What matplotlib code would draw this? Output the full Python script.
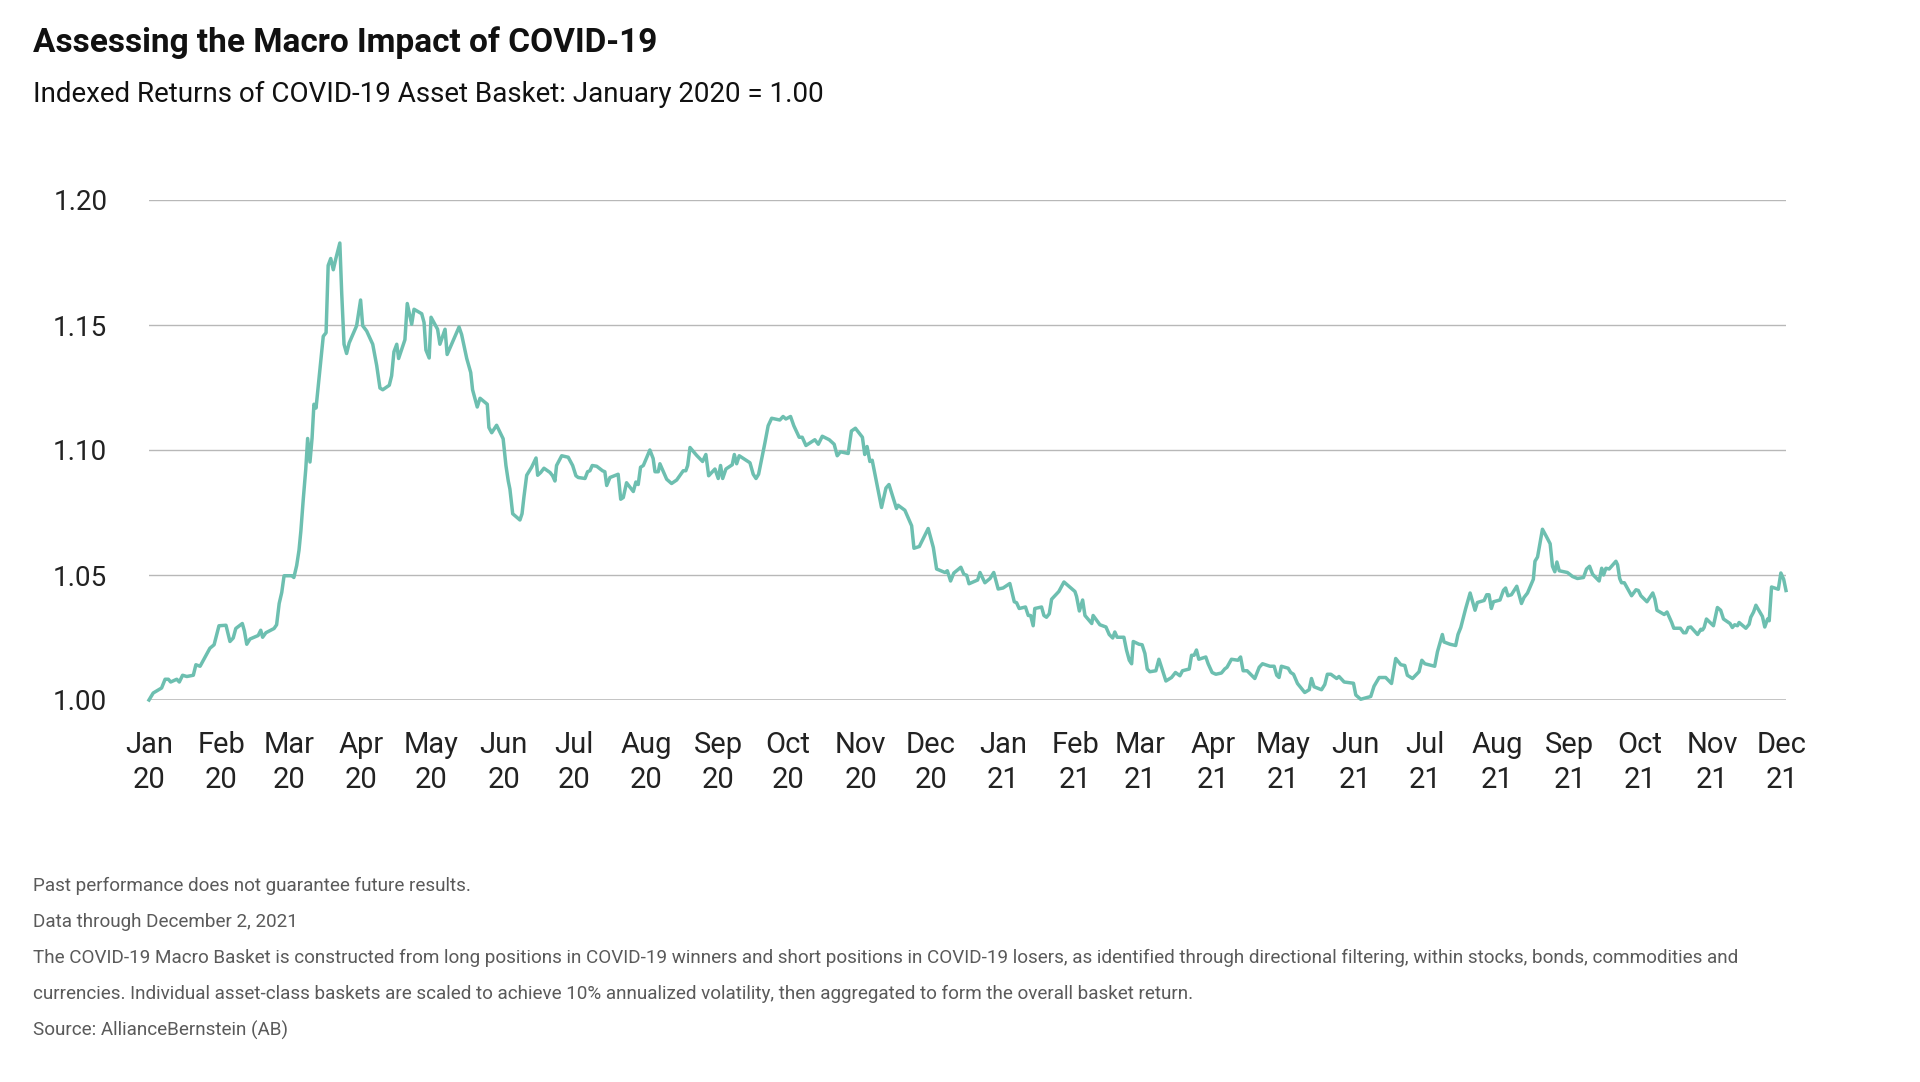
import pandas as pd
import matplotlib
matplotlib.use("Agg")
import matplotlib.pyplot as plt

# Series: days after 2020-01-01 and indexed value
day_offset = [
    0, 1.8, 5.4, 6.9, 8.3, 9.3, 11.9, 13.0, 14.4, 16.2, 19.0, 20.1, 21.9, 26.1, 27.9, 30.0,
    33.0, 34.7, 36.1, 37.2, 40.0, 40.9, 41.9, 43.3, 46.8, 47.9, 48.7, 50.1, 53.6, 54.7, 55.8,
    56.9, 57.9, 61.2, 62.1, 63.3, 64.3, 65.1, 66.1, 67.2, 68.0, 69.0, 69.9, 70.7, 71.6, 72.7,
    74.7, 75.9, 76.8, 77.9, 79.0, 80.1, 81.8, 82.6, 83.6, 84.7, 85.8, 89.0, 90.7, 91.6, 93.3,
    95.9, 97.6, 99.0, 100.2, 103.0, 104.0, 105.0, 106.2, 107.0, 109.7, 110.7, 112.6, 113.6,
    116.9, 117.9, 118.7, 120.1, 120.9, 123.7, 124.7, 126.9, 127.8, 132.9, 134.0, 136.2, 137.9,
    138.7, 140.7, 141.9, 145.0, 145.7, 146.9, 149.0, 151.8, 153.0, 154.0, 154.7, 155.9, 159.0,
    159.9, 160.7, 161.9, 164.0, 165.9, 166.6, 167.9, 169.3, 171.9, 173.0, 174.0, 174.7, 176.9,
    179.7, 181.6, 183.0, 184.0, 186.9, 188.0, 189.0, 190.0, 191.9, 194.4, 195.4, 196.2, 197.6,
    201.1, 202.2, 203.3, 204.7, 207.6, 208.7, 209.7, 210.7, 211.9, 214.7, 216.1, 216.9, 218.3,
    219.0, 221.9, 224.0, 226.2, 229.0, 230.1, 230.9, 231.9, 234.7, 237.3, 238.7, 239.9, 242.6,
    244.0, 245.0, 245.9, 247.3, 250.0, 250.9, 251.9, 253.0, 257.6, 259.0, 260.2, 261.3, 264.0,
    265.4, 266.9, 270.4, 271.8, 273.0, 275.0, 276.4, 278.7, 280.0, 281.6, 285.4, 286.9, 288.6,
    291.6, 293.7, 295.0, 296.4, 299.7, 301.1, 302.8, 305.8, 306.8, 307.8, 309.0, 310.0, 314.0,
    315.9, 317.2, 320.4, 321.1, 324.0, 326.9, 327.9, 330.2, 334.0, 336.2, 337.6, 341.2, 342.2,
    343.6, 345.0, 348.0, 349.3, 350.5, 351.5, 355.2, 356.2, 358.3, 360.5, 362.1, 364.0, 366.1,
    369.0, 370.9, 371.9, 373.0, 375.7, 376.9, 377.9, 379.0, 379.7, 382.6, 383.6, 384.7, 385.9,
    386.9, 390.0, 392.2, 396.9, 397.6, 398.8, 400.2, 401.2, 404.1, 404.7, 407.6, 410.2, 411.6,
    413.1, 414.0, 415.0, 417.9, 419.0, 420.2, 421.2, 421.9, 424.4, 425.7, 426.9, 427.9, 429.0,
    431.6, 432.9, 434.0, 435.9, 438.3, 440.0, 441.9, 443.0, 445.9, 446.9, 448.0, 449.0, 450.0,
    453.0, 454.0, 455.7, 457.3, 459.7, 461.1, 462.1, 464.0, 466.8, 467.9, 469.0, 470.7, 474.0,
    475.9, 477.3, 480.5, 482.3, 483.4, 484.4, 485.4, 488.3, 489.4, 490.6, 492.3, 495.4, 497.3,
    498.3, 499.4, 502.6, 504.0, 505.1, 506.6, 509.1, 510.1, 512.3, 516.3, 517.3, 519.4, 523.7,
    525.1, 527.3, 530.1, 532.6, 534.4, 536.6, 538.3, 539.4, 541.6, 544.4, 545.6, 546.9, 551.1,
    552.3, 554.4, 555.1, 557.7, 560.1, 561.1, 562.3, 564.4, 566.3, 568.4, 569.4, 572.3, 573.4,
    574.4, 575.4, 576.3, 579.1, 580.6, 581.5, 582.5, 584.0, 586.3, 588.3, 589.4, 590.9, 593.4,
    594.1, 595.2, 597.3, 599.1, 600.6, 601.6, 602.6, 603.5, 604.5, 608.0, 610.2, 612.3, 614.9,
    616.2, 617.5, 618.8, 621.6, 622.7, 623.5, 624.5, 625.9, 628.8, 629.5, 630.4, 631.2, 632.4,
    635.5, 637.4, 638.4, 639.5, 642.1, 644.6, 645.5, 646.4, 649.5, 650.7, 652.7, 653.6, 656.4,
    657.8, 658.8, 659.8, 660.9, 663.8, 665.2, 665.9, 666.6, 667.6, 670.6, 672.3, 673.7, 674.9,
    677.7, 678.7, 679.7, 680.9, 681.6, 684.5, 685.9, 686.6, 687.8, 688.8, 691.6, 692.6, 693.8,
    694.5, 695.5, 698.4, 699.5, 700.7, 701.7,
]
basket_index = [
    1.0000, 1.0028, 1.0048, 1.0083, 1.0083, 1.0072, 1.0083, 1.0072, 1.0099, 1.0094, 1.0099, 1.0141,
    1.0135, 1.0207, 1.0221, 1.0297, 1.0299, 1.0234, 1.0248, 1.0286, 1.0306, 1.0276, 1.0223, 1.0244,
    1.0258, 1.0279, 1.0251, 1.0269, 1.0286, 1.0301, 1.0386, 1.0430, 1.0497, 1.0497, 1.0490, 1.0538,
    1.0599, 1.0676, 1.0800, 1.0924, 1.1046, 1.0952, 1.1048, 1.1183, 1.1168, 1.1269, 1.1455, 1.1469,
    1.1738, 1.1766, 1.1721, 1.1766, 1.1828, 1.1628, 1.1423, 1.1386, 1.1428, 1.1497, 1.1600, 1.1497,
    1.1476, 1.1423, 1.1338, 1.1248, 1.1241, 1.1259, 1.1297, 1.1393, 1.1423, 1.1366, 1.1441, 1.1586,
    1.1503, 1.1563, 1.1545, 1.1510, 1.1400, 1.1368, 1.1531, 1.1483, 1.1423, 1.1483, 1.1382, 1.1492,
    1.1462, 1.1366, 1.1310, 1.1241, 1.1172, 1.1207, 1.1183, 1.1090, 1.1069, 1.1099, 1.1045, 1.0938,
    1.0876, 1.0844, 1.0745, 1.0720, 1.0745, 1.0811, 1.0899, 1.0931, 1.0968, 1.0899, 1.0910, 1.0927,
    1.0910, 1.0897, 1.0876, 1.0938, 1.0977, 1.0971, 1.0938, 1.0897, 1.0890, 1.0886, 1.0913, 1.0917,
    1.0938, 1.0935, 1.0917, 1.0913, 1.0858, 1.0890, 1.0903, 1.0803, 1.0810, 1.0869, 1.0834, 1.0872,
    1.0862, 1.0931, 1.0938, 1.1000, 1.0966, 1.0913, 1.0913, 1.0945, 1.0883, 1.0866, 1.0880, 1.0917,
    1.0917, 1.0938, 1.1010, 1.0979, 1.0954, 1.0982, 1.0897, 1.0924, 1.0886, 1.0938, 1.0886, 1.0924,
    1.0941, 1.0982, 1.0945, 1.0977, 1.0949, 1.0903, 1.0886, 1.0903, 1.1028, 1.1097, 1.1127, 1.1120,
    1.1134, 1.1124, 1.1134, 1.1097, 1.1051, 1.1051, 1.1018, 1.1041, 1.1023, 1.1055, 1.1041, 1.1023,
    1.0977, 1.0993, 1.0986, 1.1076, 1.1087, 1.1051, 1.0982, 1.1014, 1.0954, 1.0959, 1.0770, 1.0848,
    1.0862, 1.0766, 1.0779, 1.0759, 1.0697, 1.0607, 1.0614, 1.0686, 1.0610, 1.0524, 1.0510, 1.0517,
    1.0476, 1.0508, 1.0531, 1.0503, 1.0499, 1.0465, 1.0480, 1.0510, 1.0469, 1.0486, 1.0510, 1.0444,
    1.0448, 1.0466, 1.0393, 1.0389, 1.0366, 1.0372, 1.0338, 1.0338, 1.0297, 1.0366, 1.0372, 1.0338,
    1.0331, 1.0345, 1.0403, 1.0434, 1.0472, 1.0434, 1.0414, 1.0356, 1.0400, 1.0338, 1.0306, 1.0338,
    1.0301, 1.0292, 1.0262, 1.0248, 1.0272, 1.0251, 1.0251, 1.0200, 1.0159, 1.0145, 1.0234, 1.0223,
    1.0221, 1.0186, 1.0124, 1.0113, 1.0117, 1.0163, 1.0131, 1.0076, 1.0090, 1.0110, 1.0097, 1.0117,
    1.0124, 1.0179, 1.0179, 1.0200, 1.0163, 1.0172, 1.0145, 1.0110, 1.0103, 1.0108, 1.0124, 1.0131,
    1.0163, 1.0159, 1.0172, 1.0117, 1.0117, 1.0086, 1.0131, 1.0145, 1.0135, 1.0135, 1.0099, 1.0090,
    1.0135, 1.0127, 1.0110, 1.0103, 1.0066, 1.0030, 1.0041, 1.0086, 1.0053, 1.0041, 1.0062, 1.0103,
    1.0103, 1.0086, 1.0094, 1.0072, 1.0067, 1.0020, 1.0003, 1.0014, 1.0055, 1.0090, 1.0090, 1.0066,
    1.0166, 1.0141, 1.0138, 1.0099, 1.0086, 1.0113, 1.0159, 1.0145, 1.0135, 1.0193, 1.0262, 1.0232,
    1.0223, 1.0218, 1.0262, 1.0290, 1.0366, 1.0428, 1.0359, 1.0390, 1.0398, 1.0421, 1.0421, 1.0366,
    1.0393, 1.0400, 1.0439, 1.0448, 1.0417, 1.0421, 1.0455, 1.0386, 1.0410, 1.0428, 1.0483, 1.0555,
    1.0572, 1.0683, 1.0652, 1.0625, 1.0535, 1.0513, 1.0552, 1.0517, 1.0510, 1.0494, 1.0486, 1.0490,
    1.0524, 1.0535, 1.0503, 1.0476, 1.0527, 1.0500, 1.0527, 1.0524, 1.0555, 1.0541, 1.0486, 1.0469,
    1.0469, 1.0417, 1.0441, 1.0438, 1.0417, 1.0393, 1.0428, 1.0403, 1.0359, 1.0342, 1.0352, 1.0310,
    1.0287, 1.0287, 1.0269, 1.0269, 1.0290, 1.0292, 1.0262, 1.0283, 1.0280, 1.0290, 1.0324, 1.0297,
    1.0370, 1.0359, 1.0324, 1.0306, 1.0290, 1.0301, 1.0297, 1.0310, 1.0287, 1.0303, 1.0331, 1.0352,
    1.0379, 1.0334, 1.0292, 1.0324, 1.0317, 1.0452, 1.0443, 1.0508, 1.0483, 1.0438,
]

y_ticks = [1.00, 1.05, 1.10, 1.15, 1.20]
month_ticks = pd.date_range("2020-01-01", "2021-12-01", freq="MS")
month_labels = [d.strftime("%b") + "\n" + d.strftime("%y") for d in month_ticks]

title = "Assessing the Macro Impact of COVID-19"
subtitle = "Indexed Returns of COVID-19 Asset Basket: January 2020 = 1.00"
footnotes = [
    "Past performance does not guarantee future results.",
    "Data through December 2, 2021",
    "The COVID-19 Macro Basket is constructed from long positions in COVID-19 winners and short positions in COVID-19 losers, as identified through directional filtering, within stocks, bonds, commodities and",
    "currencies. Individual asset-class baskets are scaled to achieve 10% annualized volatility, then aggregated to form the overall basket return.",
    "Source: AllianceBernstein (AB)",
]

plt.rcParams["font.family"] = ["Roboto", "DejaVu Sans"]

dates = pd.Timestamp("2020-01-01") + pd.to_timedelta(day_offset, unit="D")

W, H = 1920, 1082
fig = plt.figure(figsize=(W / 100, H / 100), dpi=100)
fig.patch.set_facecolor("white")

# axes in pixel terms: x 149..1786, y 200..700 from top
ax = fig.add_axes([149 / W, 1 - 700 / H, (1786 - 149) / W, 500 / H])
ax.plot(dates, basket_index, color="#6dbfb0", lw=2.5, clip_on=False, zorder=3)

ax.set_ylim(1.0, 1.2)
ax.set_xlim(pd.Timestamp("2020-01-01"), dates[-1])
ax.set_yticks(y_ticks)
ax.set_yticklabels([f"{v:.2f}" for v in y_ticks])
for v in y_ticks[1:]:
    ax.axhline(v, color="#b8b8b8", lw=1.0, zorder=1)
ax.axhline(1.0, color="#b3b3b3", lw=1.8, zorder=2)

ax.set_xticks(month_ticks)
ax.set_xticklabels(month_labels, linespacing=1.35)

for s in ax.spines.values():
    s.set_visible(False)
ax.tick_params(axis="y", length=0, pad=30, labelsize=20, labelcolor="#222222")
ax.tick_params(axis="x", length=0, pad=22, labelsize=21, labelcolor="#222222")

fig.text(33 / W, 1 - 52 / H, title, fontsize=24, fontweight="bold", color="#111111",
         va="baseline", ha="left")
fig.text(33 / W, 1 - 102 / H, subtitle, fontsize=20, color="#111111",
         va="baseline", ha="left")

note_y = [886, 922, 958, 994, 1030]
for txt, y in zip(footnotes, note_y):
    fig.text(33 / W, 1 - y / H, txt, fontsize=13.6, color="#5a5a5a", va="center", ha="left")

fig.savefig("out.png", dpi=100, facecolor="white")
